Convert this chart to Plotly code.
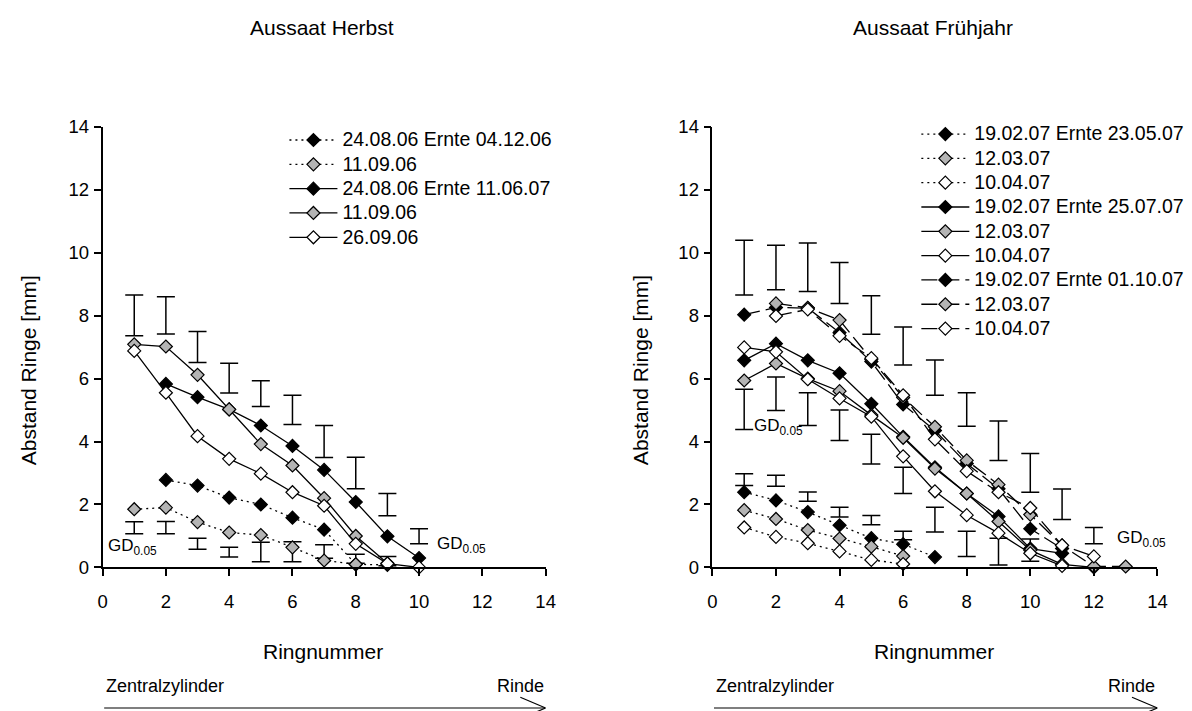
import plotly.graph_objects as go

# ---------------- Aussaat Herbst ----------------
h_x_dot_black = [2, 3, 4, 5, 6, 7, 8]
h_dot_black = [2.78, 2.60, 2.22, 2.00, 1.58, 1.20, 0.10]
h_x_dot_gray = [1, 2, 3, 4, 5, 6, 7, 8, 9]
h_dot_gray = [1.85, 1.90, 1.44, 1.11, 1.03, 0.64, 0.22, 0.10, 0.08]

h_x_sol_black = [2, 3, 4, 5, 6, 7, 8, 9, 10]
h_sol_black = [5.83, 5.41, 5.02, 4.51, 3.86, 3.10, 2.08, 0.99, 0.30]
h_x_sol_gray = [1, 2, 3, 4, 5, 6, 7, 8, 9]
h_sol_gray = [7.09, 7.02, 6.12, 5.02, 3.92, 3.24, 2.20, 1.00, 0.13]
h_x_sol_white = [1, 2, 3, 4, 5, 6, 7, 8, 9, 10]
h_sol_white = [6.88, 5.55, 4.17, 3.45, 2.98, 2.39, 1.96, 0.75, 0.12, 0.00]

# GD 0.05 bars (lower / upper end)
h_gd_up_x = [1, 2, 3, 4, 5, 6, 7, 8, 9, 10]
h_gd_up_lo = [7.36, 7.42, 6.51, 5.54, 5.11, 4.54, 3.49, 2.50, 1.64, 0.75]
h_gd_up_hi = [8.66, 8.60, 7.50, 6.49, 5.93, 5.47, 4.51, 3.50, 2.35, 1.23]
h_gd_lo_x = [1, 2, 3, 4, 5, 6, 7, 8, 9]
h_gd_lo_lo = [1.07, 1.07, 0.58, 0.33, 0.18, 0.18, 0.29, 0.13, 0.05]
h_gd_lo_hi = [1.45, 1.46, 0.93, 0.64, 0.80, 0.82, 0.72, 0.42, 0.35]

# ---------------- Aussaat Frühjahr ----------------
f_x_dot_black = [1, 2, 3, 4, 5, 6, 7]
f_dot_black = [2.39, 2.13, 1.76, 1.34, 0.93, 0.74, 0.33]
f_x_dot_gray = [1, 2, 3, 4, 5, 6]
f_dot_gray = [1.82, 1.54, 1.19, 0.92, 0.66, 0.36]
f_x_dot_white = [1, 2, 3, 4, 5, 6]
f_dot_white = [1.27, 0.97, 0.77, 0.51, 0.24, 0.11]

f_x_sol_black = [1, 2, 3, 4, 5, 6, 7, 8, 9, 10, 11]
f_sol_black = [6.58, 7.11, 6.58, 6.17, 5.20, 4.15, 3.18, 2.35, 1.62, 0.60, 0.45]
f_x_sol_gray = [1, 2, 3, 4, 5, 6, 7, 8, 9, 10, 11, 12]
f_sol_gray = [5.94, 6.48, 6.00, 5.60, 4.84, 4.12, 3.14, 2.35, 1.46, 0.55, 0.10, 0.00]
f_x_sol_white = [1, 2, 3, 4, 5, 6, 7, 8, 9, 10, 11]
f_sol_white = [6.99, 6.85, 5.98, 5.37, 4.79, 3.53, 2.42, 1.66, 1.09, 0.45, 0.05]

f_x_dash_black = [1, 2, 3, 4, 5, 6, 7, 8, 9, 10, 11]
f_dash_black = [8.03, 8.26, 8.24, 7.46, 6.54, 5.18, 4.35, 3.30, 2.50, 1.23, 0.60]
f_x_dash_gray = [2, 3, 4, 5, 6, 7, 8, 9, 10, 11, 12, 13]
f_dash_gray = [8.39, 8.25, 7.86, 6.61, 5.40, 4.47, 3.40, 2.63, 1.68, 0.70, 0.03, 0.03]
f_x_dash_white = [2, 3, 4, 5, 6, 7, 8, 9, 10, 11, 12]
f_dash_white = [7.99, 8.20, 7.36, 6.65, 5.47, 4.07, 3.06, 2.39, 1.89, 0.70, 0.35]

f_gd_up_x = [1, 2, 3, 4, 5, 6, 7, 8, 9, 10, 11, 12]
f_gd_up_lo = [8.66, 8.82, 8.77, 8.39, 7.41, 6.43, 5.47, 4.49, 3.40, 2.39, 1.52, 0.75]
f_gd_up_hi = [10.40, 10.24, 10.31, 9.69, 8.63, 7.64, 6.59, 5.55, 4.65, 3.62, 2.49, 1.27]
f_gd_mid_x = [1, 2, 3, 4, 5, 6, 7, 8, 9, 10]
f_gd_mid_lo = [4.38, 4.99, 4.51, 4.03, 3.29, 2.35, 1.13, 0.35, 0.08, 0.20]
f_gd_mid_hi = [5.66, 6.05, 5.55, 5.00, 4.23, 3.18, 1.91, 1.15, 0.93, 0.90]
f_gd_lo_x = [1, 2, 3, 4, 5, 6]
f_gd_lo_lo = [2.60, 2.58, 2.10, 1.60, 1.36, 0.88]
f_gd_lo_hi = [2.98, 2.93, 2.40, 1.91, 1.65, 1.15]

FONT = "Arial, Liberation Sans, sans-serif"
GRAY = "#b4b4b4"

# Layout positions below are given on a 1192 x 711 grid and converted to
# paper fractions of the (slightly larger) figure inside an 8 px body margin.
W, H = 1205, 722
PAD = 8
KX, KY = 0.983, 0.974


def gx(x):
    return (x / KX - PAD) / W


def gy(y):
    return 1 - (y / KY - PAD) / H


fig = go.Figure()


def series(x, y, fill, dash, name, xa, ya, legend):
    fig.add_trace(go.Scatter(
        x=x, y=y, mode="lines+markers",
        name='<span style="font-size:19.5px">%s</span>' % name,
        xaxis=xa, yaxis=ya, legend=legend, cliponaxis=False,
        line=dict(color="black", width=1.3, dash=dash),
        marker=dict(symbol="diamond", size=10, color=fill,
                    line=dict(color="black", width=1.2)),
    ))


def gd_bars(x, lo, hi, xa, ya):
    mid = [(a + b) / 2 for a, b in zip(lo, hi)]
    half = [(b - a) / 2 for a, b in zip(lo, hi)]
    fig.add_trace(go.Scatter(
        x=x, y=mid, mode="markers", xaxis=xa, yaxis=ya,
        showlegend=False, hoverinfo="skip", cliponaxis=False,
        marker=dict(size=1, color="rgba(0,0,0,0)"),
        error_y=dict(type="data", array=half, symmetric=True,
                     color="black", thickness=1.5, width=9),
    ))


DOT = "2px,4px"
DASH = "16px,6px"

# left panel
gd_bars(h_gd_up_x, h_gd_up_lo, h_gd_up_hi, "x", "y")
gd_bars(h_gd_lo_x, h_gd_lo_lo, h_gd_lo_hi, "x", "y")
series(h_x_dot_black, h_dot_black, "black", DOT, "24.08.06 Ernte 04.12.06", "x", "y", "legend")
series(h_x_dot_gray, h_dot_gray, GRAY, DOT, "11.09.06", "x", "y", "legend")
series(h_x_sol_black, h_sol_black, "black", "solid", "24.08.06 Ernte 11.06.07", "x", "y", "legend")
series(h_x_sol_gray, h_sol_gray, GRAY, "solid", "11.09.06", "x", "y", "legend")
series(h_x_sol_white, h_sol_white, "white", "solid", "26.09.06", "x", "y", "legend")

# right panel
gd_bars(f_gd_up_x, f_gd_up_lo, f_gd_up_hi, "x2", "y2")
gd_bars(f_gd_mid_x, f_gd_mid_lo, f_gd_mid_hi, "x2", "y2")
gd_bars(f_gd_lo_x, f_gd_lo_lo, f_gd_lo_hi, "x2", "y2")
series(f_x_dot_black, f_dot_black, "black", DOT, "19.02.07 Ernte 23.05.07", "x2", "y2", "legend2")
series(f_x_dot_gray, f_dot_gray, GRAY, DOT, "12.03.07", "x2", "y2", "legend2")
series(f_x_dot_white, f_dot_white, "white", DOT, "10.04.07", "x2", "y2", "legend2")
series(f_x_sol_black, f_sol_black, "black", "solid", "19.02.07 Ernte 25.07.07", "x2", "y2", "legend2")
series(f_x_sol_gray, f_sol_gray, GRAY, "solid", "12.03.07", "x2", "y2", "legend2")
series(f_x_sol_white, f_sol_white, "white", "solid", "10.04.07", "x2", "y2", "legend2")
series(f_x_dash_black, f_dash_black, "black", DASH, "19.02.07 Ernte 01.10.07", "x2", "y2", "legend2")
series(f_x_dash_gray, f_dash_gray, GRAY, DASH, "12.03.07", "x2", "y2", "legend2")
series(f_x_dash_white, f_dash_white, "white", DASH, "10.04.07", "x2", "y2", "legend2")

X_LEFT = [gx(105), gx(546)]
X_RIGHT = [gx(712), gx(1155)]
Y_DOM = [gy(566), gy(124)]

axis_common = dict(
    range=[0, 14], dtick=2, showgrid=False, zeroline=False,
    showline=True, linecolor="black", linewidth=1.5,
    ticks="outside", ticklen=7, tickwidth=1.5, tickcolor="black",
    tickfont=dict(family=FONT, size=18.5, color="black"),
)
x_extra = dict(ticklabelstandoff=10)
y_extra = dict(ticklabelstandoff=1)

legend_common = dict(
    bgcolor="rgba(0,0,0,0)", borderwidth=0, itemwidth=48,
    font=dict(family=FONT, size=16.4, color="black"),
    xanchor="left", yanchor="top", tracegroupgap=0,
)

fig.update_layout(
    width=W, height=H,
    margin=dict(l=0, r=0, t=0, b=0),
    paper_bgcolor="white", plot_bgcolor="white",
    font=dict(family=FONT, color="black"),
    xaxis=dict(domain=X_LEFT, anchor="y", **axis_common, **x_extra),
    yaxis=dict(domain=Y_DOM, anchor="x", **axis_common, **y_extra),
    xaxis2=dict(domain=X_RIGHT, anchor="y2", **axis_common, **x_extra),
    yaxis2=dict(domain=Y_DOM, anchor="x2", **axis_common, **y_extra),
    legend=dict(x=gx(286), y=gy(120), **legend_common),
    legend2=dict(x=gx(915), y=gy(114), **legend_common),
)

annotations = []


def text(x, y, s, size, xanchor="center", xref="paper", yref="paper", angle=0):
    annotations.append(dict(
        x=x, y=y, xref=xref, yref=yref, text=s, showarrow=False,
        xanchor=xanchor, yanchor="middle", textangle=angle,
        font=dict(family=FONT, size=size, color="black"),
    ))


# panel titles
text(gx(323), gy(24), "Aussaat Herbst", 21)
text(gx(932), gy(24), "Aussaat Frühjahr", 21)
# axis titles
for cx in (324, 933):
    text(gx(cx), gy(650), "Ringnummer", 21)
for cx in (31, 640):
    text(gx(cx), gy(368), "Abstand Ringe [mm]", 21, angle=-90)
# direction labels under each panel
for xa in ("x", "x2"):
    text(0.05, gy(685), "Zentralzylinder", 18, xanchor="left", xref=xa)
    text(14, gy(685), "Rinde", 18, xanchor="right", xref=xa)

# GD 0.05 labels
GD = "GD<sub>0.05</sub>"
text(0.1, 0.65, GD, 17, xanchor="left", xref="x", yref="y")
text(10.5, 0.7, GD, 17, xanchor="left", xref="x", yref="y")
text(1.25, 4.45, GD, 17, xanchor="left", xref="x2", yref="y2")
text(12.65, 0.9, GD, 17, xanchor="left", xref="x2", yref="y2")

fig.update_layout(annotations=annotations)

# arrows from Zentralzylinder to Rinde
ay = gy(707)
dy = 11 / H
shapes = []
for xa in ("x", "x2"):
    line = dict(color="black", width=1.2)
    shapes.append(dict(type="line", xref=xa, yref="paper", x0=0.05, x1=14, y0=ay, y1=ay, line=line))
    shapes.append(dict(type="line", xref=xa, yref="paper", x0=13.2, x1=14, y0=ay + dy, y1=ay, line=line))
    shapes.append(dict(type="line", xref=xa, yref="paper", x0=13.2, x1=14, y0=ay - dy, y1=ay, line=line))
fig.update_layout(shapes=shapes)

fig.write_html("out.html")
